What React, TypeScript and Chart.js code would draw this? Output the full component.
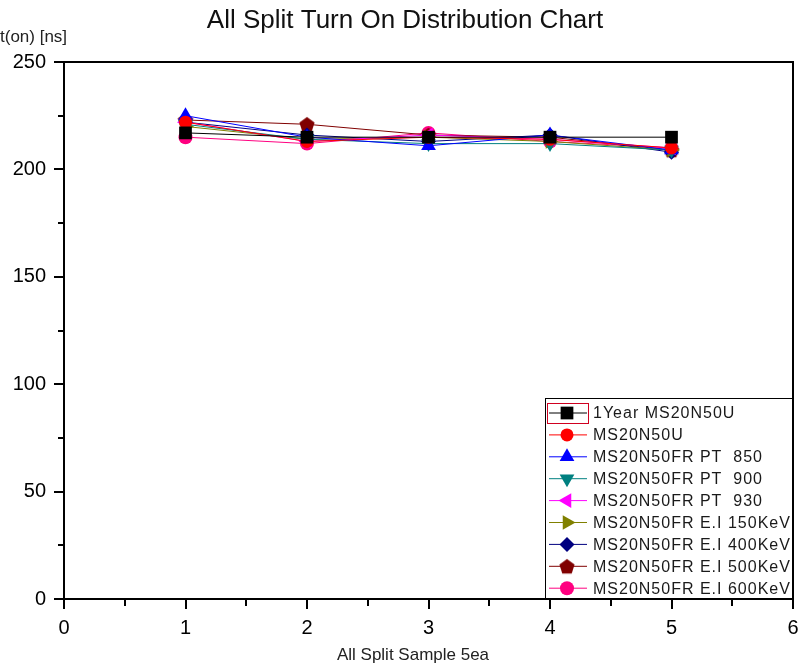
import React, { useEffect, useRef } from "react";
import { Chart, registerables } from "chart.js";
import { drawPoint } from "chart.js/helpers";

Chart.register(...registerables);

const samples = [1, 2, 3, 4, 5];
const seriesNames = [
  "1Year MS20N50U",
  "MS20N50U",
  "MS20N50FR PT  850",
  "MS20N50FR PT  900",
  "MS20N50FR PT  930",
  "MS20N50FR E.I 150KeV",
  "MS20N50FR E.I 400KeV",
  "MS20N50FR E.I 500KeV",
  "MS20N50FR E.I 600KeV",
];
const oneYear = [217, 215, 215, 215, 215];
const ms20n50u = [222, 213, 215, 214, 210];
const pt850 = [225, 215, 211, 216, 209];
const pt900 = [221, 214, 212, 212, 209];
const pt930 = [222, 213, 216, 214, 210];
const ei150 = [220, 214, 215, 213, 209];
const ei400 = [222, 216, 213, 216, 208];
const ei500 = [223, 221, 216, 215, 209];
const ei600 = [215, 212, 217, 213, 210];
const seriesValues = [oneYear, ms20n50u, pt850, pt900, pt930, ei150, ei400, ei500, ei600];
const seriesColors = ["#000000", "#FF0000", "#0000FF", "#008080", "#FF00FF", "#808000", "#000080", "#800000", "#FF0080"];
const xTicks = [0, 1, 2, 3, 4, 5, 6];
const yTicks = [0, 50, 100, 150, 200, 250];

function makePentagon(color: string, r: number) {
  const c = document.createElement("canvas");
  const s = Math.ceil(r * 2 + 2);
  c.width = s;
  c.height = s;
  const g = c.getContext("2d")!;
  g.fillStyle = color;
  g.beginPath();
  for (let i = 0; i < 5; i++) {
    const a = -Math.PI / 2 + (i * 2 * Math.PI) / 5;
    const x = s / 2 + r * Math.cos(a);
    const y = s / 2 + r * Math.sin(a) + r * 0.1;
    if (i === 0) g.moveTo(x, y);
    else g.lineTo(x, y);
  }
  g.closePath();
  g.fill();
  return c;
}

export default function App() {
  const ref = useRef<HTMLCanvasElement>(null);
  useEffect(() => {
    const pent = makePentagon("#800000", 8);
    const styles: any[] = ["rect", "circle", "triangle", "triangle", "triangle", "triangle", "rectRot", pent, "circle"];
    const rotations = [0, 0, 0, 180, -90, 90, 0, 0, 0];
    const radii = [9, 6.5, 8.5, 8.5, 8.5, 8.5, 7.5, 8, 7];

    const datasets = seriesNames.map((name, i) => ({
      label: name,
      data: samples.map((s, j) => ({ x: s, y: seriesValues[i][j] })),
      borderColor: seriesColors[i],
      backgroundColor: seriesColors[i],
      borderWidth: 1,
      pointStyle: styles[i],
      pointRotation: rotations[i],
      pointRadius: radii[i],
      pointBorderWidth: 0,
      pointBackgroundColor: seriesColors[i],
      pointBorderColor: seriesColors[i],
      showLine: true,
      tension: 0,
    }));

    const decor = {
      id: "decor",
      afterDraw(chart: any) {
        const ctx = chart.ctx;
        const ca = chart.chartArea;
        const xs = chart.scales.x;
        const ys = chart.scales.y;
        ctx.save();
        ctx.strokeStyle = "#000";
        ctx.lineWidth = 2;
        ctx.strokeRect(ca.left, ca.top, ca.right - ca.left, ca.bottom - ca.top);
        for (let v = 0; v <= 6.001; v += 0.5) {
          const px = Math.round(xs.getPixelForValue(v));
          const major = Math.abs(v - Math.round(v)) < 1e-6;
          ctx.beginPath();
          ctx.moveTo(px, ca.bottom);
          ctx.lineTo(px, ca.bottom + (major ? 10 : 7));
          ctx.stroke();
        }
        for (let v = 0; v <= 250.001; v += 25) {
          const py = Math.round(ys.getPixelForValue(v));
          const major = v % 50 === 0;
          ctx.beginPath();
          ctx.moveTo(ca.left, py);
          ctx.lineTo(ca.left - (major ? 10 : 6), py);
          ctx.stroke();
        }
        ctx.fillStyle = "#000";
        ctx.font = "20px 'Liberation Sans', Arial, sans-serif";
        ctx.textAlign = "center";
        ctx.textBaseline = "middle";
        xTicks.forEach((v) => ctx.fillText(String(v), xs.getPixelForValue(v), 628));
        ctx.textAlign = "right";
        yTicks.forEach((v) => ctx.fillText(String(v), 46, ys.getPixelForValue(v)));
        ctx.fillStyle = "#111";
        ctx.font = "26px 'Liberation Sans', Arial, sans-serif";
        ctx.textAlign = "center";
        ctx.fillText("All Split Turn On Distribution Chart", 405, 21);
        ctx.fillStyle = "#222";
        ctx.font = "17px 'Liberation Sans', Arial, sans-serif";
        ctx.fillText("All Split Sample 5ea", 413, 655);
        ctx.textAlign = "left";
        ctx.fillText("t(on) [ns]", 0, 37);
        const lx = 545, ly = 398, lw = ca.right - 545, lh = ca.bottom - 398;
        ctx.fillStyle = "#fff";
        ctx.fillRect(lx, ly, lw, lh);
        ctx.strokeStyle = "#000";
        ctx.lineWidth = 1;
        ctx.strokeRect(lx + 0.5, ly + 0.5, lw - 1, lh - 1);
        ctx.strokeStyle = "#d00020";
        ctx.strokeRect(547.5, 403.5, 41, 20);
        ctx.font = "16px 'Liberation Sans', Arial, sans-serif";
        (ctx as any).letterSpacing = "1px";
        ctx.textBaseline = "middle";
        seriesNames.forEach((name, i) => {
          const yy = 413 + i * 21.9;
          ctx.strokeStyle = seriesColors[i];
          ctx.lineWidth = 1;
          ctx.beginPath();
          ctx.moveTo(549, yy);
          ctx.lineTo(587, yy);
          ctx.stroke();
          ctx.fillStyle = seriesColors[i];
          ctx.strokeStyle = seriesColors[i];
          drawPoint(ctx, { pointStyle: styles[i], radius: radii[i], rotation: rotations[i], borderWidth: 0 } as any, 567, yy);
          ctx.fillStyle = "#1a1a1a";
          ctx.textAlign = "left";
          ctx.fillText(name, 593, yy + 1);
        });
        ctx.restore();
      },
    };

    const chart = new Chart(ref.current!, {
      type: "scatter",
      data: { datasets: datasets as any },
      options: {
        animation: false,
        responsive: false,
        maintainAspectRatio: false,
        layout: { padding: { top: 62, right: 18, left: 0, bottom: 0 } },
        plugins: { legend: { display: false }, title: { display: false }, tooltip: { enabled: false } },
        scales: {
          x: {
            type: "linear",
            min: 0,
            max: 6,
            grid: { display: false },
            border: { display: false },
            ticks: { display: false },
            afterFit: (s: any) => { s.height = 68; },
          },
          y: {
            type: "linear",
            min: 0,
            max: 250,
            grid: { display: false },
            border: { display: false },
            ticks: { display: false },
            afterFit: (s: any) => { s.width = 64; },
          },
        },
      },
      plugins: [decor],
    });
    return () => chart.destroy();
  }, []);
  return (
    <div style={{ position: "absolute", left: 0, top: 0, width: 811, height: 667, background: "#fff" }}>
      <canvas ref={ref} width={811} height={667} style={{ width: 811, height: 667 }} />
    </div>
  );
}
